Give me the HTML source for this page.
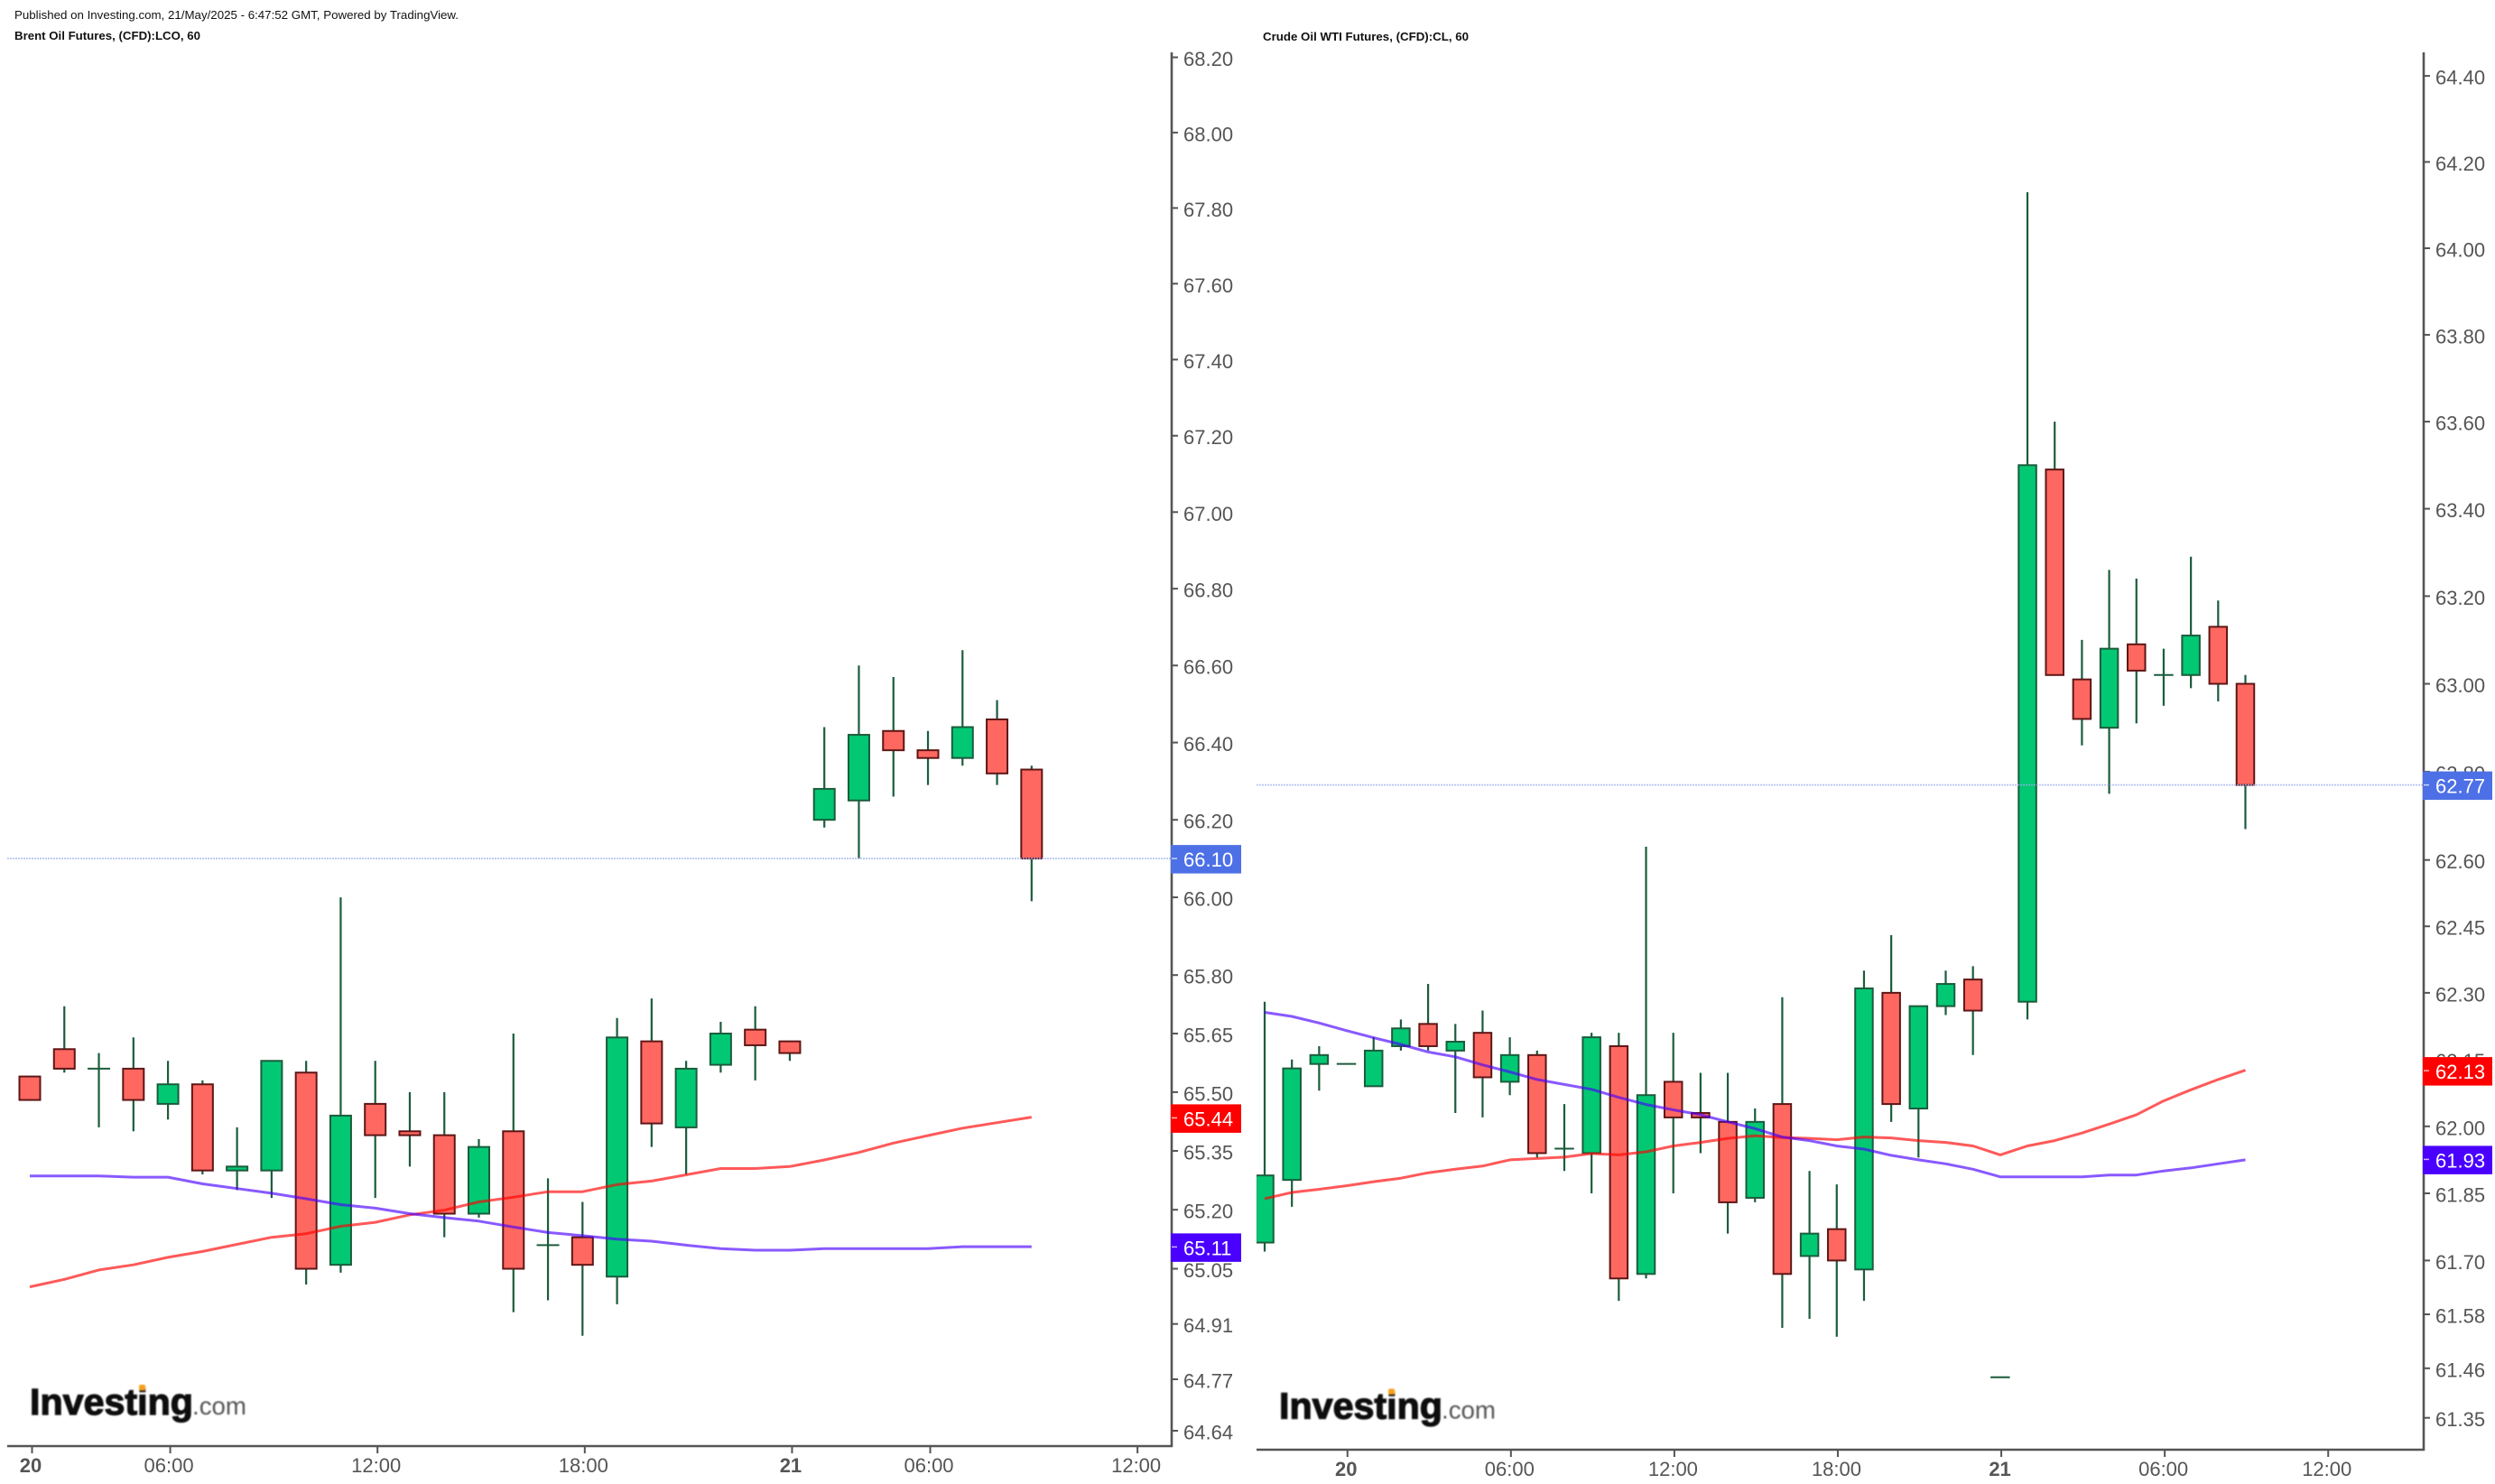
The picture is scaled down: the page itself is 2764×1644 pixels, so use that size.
<!DOCTYPE html>
<html lang="en">
<head>
<meta charset="utf-8">
<title>Brent and WTI Crude Oil Futures</title>
<style>
html,body{margin:0;padding:0;background:#fff;width:2764px;height:1644px;overflow:hidden}
svg{display:block;font-family:"Liberation Sans",Arial,sans-serif}
</style>
</head>
<body>
<svg id="stage" xmlns="http://www.w3.org/2000/svg" width="2764" height="1644" viewBox="0 0 2764 1644">
  <defs>
    <clipPath id="clip-left"><rect x="8" y="58" width="1290" height="1544"/></clipPath>
    <clipPath id="clip-right"><rect x="1392" y="58" width="1293" height="1548"/></clipPath>
    <filter id="soft" x="-5%" y="-5%" width="110%" height="110%"><feGaussianBlur stdDeviation="0.7"/></filter>
  </defs>
  <rect width="2764" height="1644" fill="#ffffff"/>
  <text x="16" y="21" font-size="12.5" fill="#111" textLength="492" lengthAdjust="spacingAndGlyphs">Published on Investing.com, 21/May/2025 - 6:47:52 GMT, Powered by TradingView.</text>
  <text x="16" y="44" font-size="12.5" font-weight="700" fill="#111" textLength="206" lengthAdjust="spacingAndGlyphs">Brent Oil Futures, (CFD):LCO, 60</text>
  <text x="1399" y="45" font-size="12.5" font-weight="700" fill="#111" textLength="228" lengthAdjust="spacingAndGlyphs">Crude Oil WTI Futures, (CFD):CL, 60</text>
  <g id="chart-left"></g>
  <g id="chart-right"></g>
  <g filter="url(#soft)">
    <text x="33" y="1567" font-size="41" font-weight="700" fill="#0c0c0c" stroke="#0c0c0c" stroke-width="1.2" textLength="181" lengthAdjust="spacingAndGlyphs">Investing</text>
    <text x="213" y="1567" font-size="28" fill="#555" textLength="60" lengthAdjust="spacingAndGlyphs">.com</text>
    <rect x="154" y="1534" width="7" height="6" rx="1.5" fill="#f7a11a"/>
  </g>
  <g filter="url(#soft)">
    <text x="1417" y="1571.5" font-size="41" font-weight="700" fill="#0c0c0c" stroke="#0c0c0c" stroke-width="1.2" textLength="181" lengthAdjust="spacingAndGlyphs">Investing</text>
    <text x="1597" y="1571.5" font-size="28" fill="#555" textLength="60" lengthAdjust="spacingAndGlyphs">.com</text>
    <rect x="1538" y="1538.5" width="7" height="6" rx="1.5" fill="#f7a11a"/>
  </g>
</svg>
<script>
/* ---------- Brent data ---------- */
const brentOpen  = [65.54,65.61,65.56,65.56,65.47,65.52,65.30,65.30,65.55,65.06,65.47,65.40,65.39,65.19,65.40,65.11,65.13,65.03,65.63,65.41,65.57,65.66,65.63,66.20,66.25,66.43,66.38,66.36,66.46,66.33];
const brentHigh  = [65.54,65.72,65.60,65.64,65.58,65.53,65.41,65.58,65.58,66.00,65.58,65.50,65.50,65.38,65.65,65.28,65.22,65.69,65.74,65.58,65.68,65.72,65.63,66.44,66.60,66.57,66.43,66.64,66.51,66.34];
const brentLow   = [65.48,65.55,65.41,65.40,65.43,65.29,65.25,65.23,65.01,65.04,65.23,65.31,65.13,65.18,64.94,64.97,64.88,64.96,65.36,65.29,65.55,65.53,65.58,66.18,66.10,66.26,66.29,66.34,66.29,65.99];
const brentClose = [65.48,65.56,65.56,65.48,65.52,65.30,65.31,65.58,65.05,65.44,65.39,65.39,65.19,65.36,65.05,65.11,65.06,65.64,65.42,65.56,65.65,65.62,65.60,66.28,66.42,66.38,66.36,66.44,66.32,66.10];
const brentMaRed = [65.004,65.023,65.047,65.060,65.079,65.094,65.112,65.130,65.139,65.158,65.168,65.187,65.199,65.220,65.232,65.246,65.246,65.264,65.273,65.289,65.305,65.305,65.310,65.327,65.346,65.370,65.389,65.408,65.422,65.436];
const brentMaPurple = [65.286,65.286,65.286,65.283,65.283,65.266,65.254,65.242,65.228,65.213,65.204,65.190,65.180,65.171,65.156,65.142,65.134,65.125,65.120,65.110,65.101,65.097,65.097,65.101,65.101,65.101,65.101,65.106,65.106,65.106];
const brentPriceTicks = ["68.20","68.00","67.80","67.60","67.40","67.20","67.00","66.80","66.60","66.40","66.20","66.00","65.80","65.65","65.50","65.35","65.20","65.05","64.91","64.77","64.64"];
const brentTimeLabels = ["20","06:00","12:00","18:00","21","06:00","12:00"];
const brentTimeBars   = [0,4,10,16,22,26,32];
const brentLastPrice = 66.10;
const brentMaRedLast = 65.44;
const brentMaPurpleLast = 65.11;

/* ---------- WTI data ---------- */
const wtiOpen  = [61.74,61.88,62.14,62.14,62.09,62.18,62.23,62.17,62.21,62.10,62.16,61.95,61.94,62.18,61.67,62.10,62.03,62.01,61.84,62.05,61.71,61.77,61.68,62.30,62.04,62.27,62.33,61.44,62.28,63.49,63.01,62.90,63.09,63.02,63.02,63.13,63.00];
const wtiHigh  = [62.28,62.15,62.18,62.14,62.20,62.24,62.32,62.23,62.26,62.20,62.17,62.05,62.21,62.21,62.63,62.21,62.12,62.12,62.04,62.29,61.90,61.87,62.35,62.43,62.27,62.35,62.36,61.44,64.13,63.60,63.10,63.26,63.24,63.08,63.29,63.19,63.02];
const wtiLow   = [61.72,61.82,62.08,62.14,62.09,62.17,62.17,62.03,62.02,62.07,61.93,61.90,61.85,61.61,61.66,61.85,61.94,61.76,61.83,61.55,61.57,61.53,61.61,62.01,61.93,62.25,62.16,61.44,62.24,63.02,62.86,62.75,62.91,62.95,62.99,62.96,62.67];
const wtiClose = [61.89,62.13,62.16,62.14,62.17,62.22,62.18,62.19,62.11,62.16,61.94,61.95,62.20,61.66,62.07,62.02,62.02,61.83,62.01,61.67,61.76,61.70,62.31,62.05,62.27,62.32,62.26,61.44,63.50,63.02,62.92,63.08,63.03,63.02,63.11,63.00,62.77];
const wtiMaRed = [61.838,61.852,61.859,61.867,61.876,61.884,61.896,61.904,61.911,61.925,61.928,61.931,61.939,61.936,61.943,61.956,61.964,61.973,61.979,61.975,61.973,61.970,61.976,61.974,61.968,61.964,61.956,61.936,61.956,61.968,61.985,62.005,62.026,62.057,62.082,62.105,62.126];
const wtiMaPurple = [62.256,62.247,62.232,62.215,62.199,62.184,62.167,62.156,62.138,62.122,62.105,62.094,62.083,62.065,62.049,62.037,62.026,62.010,61.995,61.976,61.968,61.956,61.949,61.935,61.925,61.916,61.904,61.887,61.887,61.887,61.887,61.891,61.891,61.900,61.907,61.916,61.925];
const wtiPriceTicks = ["64.40","64.20","64.00","63.80","63.60","63.40","63.20","63.00","62.80","62.60","62.45","62.30","62.15","62.00","61.85","61.70","61.58","61.46","61.35"];
const wtiTimeLabels = ["20","06:00","12:00","18:00","21","06:00","12:00"];
const wtiTimeBars   = [3,9,15,21,27,33,39];
const wtiLastPrice = 62.77;
const wtiMaRedLast = 62.13;
const wtiMaPurpleLast = 61.93;

const NS = 'http://www.w3.org/2000/svg';
const WICK = '#1b5c3c', AXIS = '#555555';

function make(parent, tag, attrs) {
  const el = document.createElementNS(NS, tag);
  for (const k in attrs) el.setAttribute(k, attrs[k]);
  parent.appendChild(el);
  return el;
}

function drawChart(root, s) {
  const y = p => s.yTop + s.yScale * Math.log(s.yRef / p);
  const x = i => s.xStart + s.xStep * i;

  const marks = make(root, 'g', {'clip-path': 'url(#' + s.clip + ')'});
  
  

  s.open.forEach((o, i) => {
    const c = s.close[i];
    const up = c >= o;
    const cx = x(i);
    const group = make(marks, 'g', {});
    
    
    if (s.high[i] !== s.low[i]) {
      const wick = make(group, 'line', {x1: cx, x2: cx, y1: y(s.high[i]), y2: y(s.low[i]), stroke: WICK, 'stroke-width': 2.2});
      
      
    }
    if (o === c) {
      const doji = make(group, 'line', {x1: cx - s.body / 2 - 1, x2: cx + s.body / 2 + 1, y1: y(o), y2: y(o), stroke: WICK, 'stroke-width': 2});
      
      
    } else {
      const top = y(Math.max(o, c)), bottom = y(Math.min(o, c));
      const body = make(group, 'rect', {x: cx - s.body / 2, y: top, width: s.body, height: bottom - top,
        fill: up ? '#02c874' : '#ff6860', stroke: up ? '#1b5c3c' : '#5e1616', 'stroke-width': 2});
      
      
    }
  });

  const lastLine = make(marks, 'line', {x1: s.plotLeft, x2: s.axisX, y1: y(s.last), y2: y(s.last), stroke: '#9fb0ee', 'stroke-width': 1.6, 'stroke-dasharray': '2 1', opacity: 0.8});
  
  

  const path = arr => arr.map((v, i) => (i ? 'L' : 'M') + x(i).toFixed(1) + ' ' + y(v).toFixed(1)).join(' ');
  const redLine = make(marks, 'path', {d: path(s.maRed), fill: 'none', stroke: '#ff0000', 'stroke-width': 3, opacity: 0.65, 'stroke-linejoin': 'round'});
  
  
  const purpleLine = make(marks, 'path', {d: path(s.maPurple), fill: 'none', stroke: '#4a00ff', 'stroke-width': 3, opacity: 0.65, 'stroke-linejoin': 'round'});
  
  

  const xAxis = make(root, 'line', {x1: s.plotLeft, x2: s.axisX + 1, y1: s.axisY, y2: s.axisY, stroke: AXIS, 'stroke-width': 2.6});
  
  
  const yAxis = make(root, 'line', {x1: s.axisX, x2: s.axisX, y1: 58, y2: s.axisY + 1, stroke: AXIS, 'stroke-width': 2.6});
  
  

  s.priceTicks.forEach(label => {
    const ty = y(parseFloat(label));
    const tick = make(root, 'line', {x1: s.axisX, x2: s.axisX + 7, y1: ty, y2: ty, stroke: AXIS, 'stroke-width': 2});
    
    
    const t = make(root, 'text', {x: s.axisX + 13, y: ty + 9.5, 'font-size': 22, fill: AXIS});
    
    
    t.textContent = label;
  });

  s.timeBars.forEach((bar, i) => {
    const tx = x(bar) + s.tickShift;
    const tick = make(root, 'line', {x1: tx, x2: tx, y1: s.axisY, y2: s.axisY + 8, stroke: AXIS, 'stroke-width': 2});
    
    
    const label = s.timeLabels[i];
    const t = make(root, 'text', {x: tx - 1.5, y: s.axisY + 29, 'font-size': 22, fill: AXIS, 'text-anchor': 'middle', 'font-weight': label.length === 2 ? 700 : 400});
    
    
    t.textContent = label;
  });

  [[s.last, '#4d70e6', 'last-price-tag', -15], [s.redLast, '#ff0000', 'moving-average-red-tag', -12.5], [s.purpleLast, '#4a00ff', 'moving-average-purple-tag', -13]].forEach(tag => {
    const ty = y(tag[0]);
    const boxTop = ty + tag[3];
    const g = make(root, 'g', {});
    
    
    make(g, 'rect', {x: s.axisX - 1, y: boxTop, width: s.tagRight - s.axisX + 1, height: 31.5, fill: tag[1]});
    make(g, 'line', {x1: s.axisX, x2: s.axisX + 6, y1: boxTop + 15, y2: boxTop + 15, stroke: '#ffffff', 'stroke-opacity': 0.7, 'stroke-width': 1.5});
    const t = make(g, 'text', {x: s.axisX + 13, y: boxTop + 24, 'font-size': 22, fill: '#ffffff'});
    t.textContent = tag[0].toFixed(2);
  });
}

drawChart(document.getElementById('chart-left'), {
  open: brentOpen, high: brentHigh, low: brentLow, close: brentClose,
  maRed: brentMaRed, maPurple: brentMaPurple,
  priceTicks: brentPriceTicks, timeLabels: brentTimeLabels, timeBars: brentTimeBars,
  last: brentLastPrice, redLast: brentMaRedLast, purpleLast: brentMaPurpleLast,
  yTop: 63.5, yRef: 68.2, yScale: 28380,
  xStart: 33, xStep: 38.27, tickShift: 2.5, body: 23,
  plotLeft: 8, axisX: 1298, axisY: 1602, tagRight: 1375, clip: 'clip-left'
});
drawChart(document.getElementById('chart-right'), {
  open: wtiOpen, high: wtiHigh, low: wtiLow, close: wtiClose,
  maRed: wtiMaRed, maPurple: wtiMaPurple,
  priceTicks: wtiPriceTicks, timeLabels: wtiTimeLabels, timeBars: wtiTimeBars,
  last: wtiLastPrice, redLast: wtiMaRedLast, purpleLast: wtiMaPurpleLast,
  yTop: 275, yRef: 64, yScale: 30640,
  xStart: 1401, xStep: 30.18, tickShift: 1.2, body: 19.5,
  plotLeft: 1392, axisX: 2685, axisY: 1606, tagRight: 2761, clip: 'clip-right'
});
</script>
</body>
</html>
